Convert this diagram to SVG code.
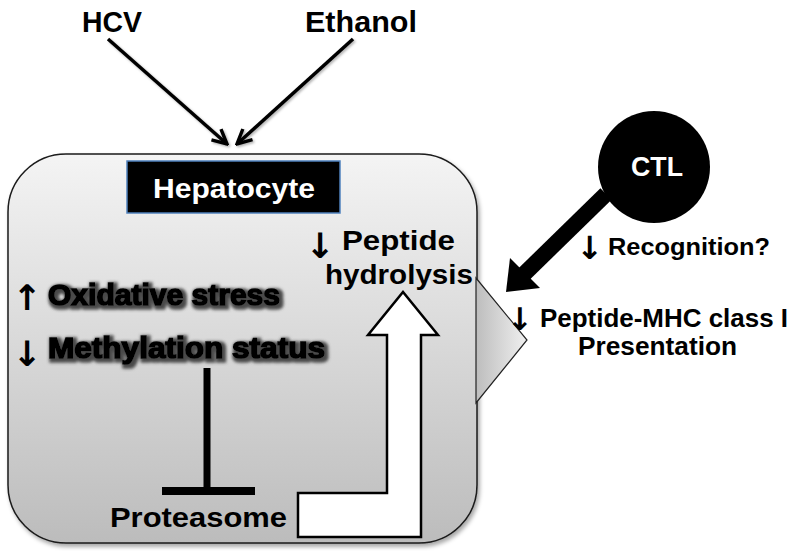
<svg xmlns="http://www.w3.org/2000/svg" width="795" height="551" viewBox="0 0 795 551">
<defs>
  <linearGradient id="boxGrad" x1="0" y1="0" x2="0" y2="1">
    <stop offset="0" stop-color="#f4f4f4"/>
    <stop offset="1" stop-color="#bcbcbc"/>
  </linearGradient>
  <linearGradient id="triGrad" x1="0" y1="0" x2="1" y2="0">
    <stop offset="0" stop-color="#bdbdbd"/>
    <stop offset="1" stop-color="#f0f0f0"/>
  </linearGradient>
  <filter id="boxShadow" x="-5%" y="-5%" width="115%" height="115%">
    <feDropShadow dx="2" dy="3" stdDeviation="2" flood-color="#000" flood-opacity="0.35"/>
  </filter>
  <filter id="lineShadow" x="-10%" y="-10%" width="130%" height="130%">
    <feDropShadow dx="1.5" dy="1.5" stdDeviation="1" flood-color="#000" flood-opacity="0.3"/>
  </filter>
  <filter id="glow" x="-10%" y="-40%" width="125%" height="180%">
    <feMorphology in="SourceAlpha" operator="dilate" radius="1.5" result="d"/>
    <feGaussianBlur in="d" stdDeviation="1.6" result="b"/>
    <feOffset in="b" dx="2" dy="2" result="o"/>
    <feFlood flood-color="#4a4a4a"/>
    <feComposite in2="o" operator="in" result="s"/>
    <feMerge><feMergeNode in="s"/><feMergeNode in="SourceGraphic"/></feMerge>
  </filter>
  <marker id="openArrow" viewBox="0 0 10 10" refX="9" refY="5" markerUnits="userSpaceOnUse" markerWidth="18" markerHeight="18" orient="auto">
    <path d="M1,1 L9,5 L1,9" fill="none" stroke="#000" stroke-width="1.9" stroke-linejoin="miter"/>
  </marker>
</defs>
<style>
  .lbl { font-family: "Liberation Sans", Arial, sans-serif; font-weight: bold; fill: #000; }
  .wht { font-family: "Liberation Sans", Arial, sans-serif; font-weight: bold; fill: #fff; }
  .arr { font-family: "DejaVu Sans", sans-serif; font-weight: bold; fill: #000; text-anchor: middle; }
  .heavy { stroke: #000; stroke-width: 1.6; paint-order: stroke; }
  .conn { stroke: #000; fill: none; }
</style>

<g id="hepatocyte">
  <rect x="8" y="154" width="469" height="389" rx="58" ry="58" fill="url(#boxGrad)" stroke="#1a1a1a" stroke-width="1.5" filter="url(#boxShadow)"/>
  <rect x="127" y="161" width="213" height="52" fill="#000" stroke="#4f81bd" stroke-width="1.5"/>
  <text class="wht" x="153" y="198" font-size="28" textLength="162" lengthAdjust="spacingAndGlyphs">Hepatocyte</text>
</g>

<g id="presentation-callout">
  <polygon points="476,278 527,340 476,403" fill="url(#triGrad)" stroke="#222" stroke-width="1.2"/>
</g>

<g id="connectors">
  <line class="conn" x1="108" y1="39" x2="227" y2="144" stroke-width="3.5" marker-end="url(#openArrow)" filter="url(#lineShadow)"/>
  <line class="conn" x1="353" y1="39" x2="237" y2="144" stroke-width="3.5" marker-end="url(#openArrow)" filter="url(#lineShadow)"/>
  <g id="inhibition">
    <line x1="207" y1="368" x2="207" y2="491" stroke="#000" stroke-width="7"/>
    <line x1="162" y1="491" x2="255" y2="491" stroke="#000" stroke-width="8"/>
  </g>
  <path id="bent-arrow" d="M298,493 L387,493 L387,335 L368,335 L403,292 L438,335 L421,335 L421,537 L298,537 Z" fill="#fff" stroke="#000" stroke-width="2.5" stroke-linejoin="miter"/>
  <g id="ctl-arrow">
    <line x1="606" y1="194" x2="521" y2="277" stroke="#000" stroke-width="16"/>
    <polygon points="506,292 510,258 540,288" fill="#000"/>
  </g>
</g>

<g id="hcv">
  <text class="lbl" x="82" y="32" font-size="29" textLength="60" lengthAdjust="spacingAndGlyphs">HCV</text>
</g>
<g id="ethanol">
  <text class="lbl" x="305" y="32" font-size="29" textLength="112" lengthAdjust="spacingAndGlyphs">Ethanol</text>
</g>

<g id="peptide-hydrolysis">
  <text class="arr" x="320" y="258" font-size="35">↓</text>
  <text class="lbl" x="342" y="250" font-size="28" textLength="113" lengthAdjust="spacingAndGlyphs">Peptide</text>
  <text class="lbl" x="325" y="284" font-size="28" textLength="148" lengthAdjust="spacingAndGlyphs">hydrolysis</text>
</g>

<g id="oxidative-stress">
  <text class="arr" x="27" y="310" font-size="35">↑</text>
  <text class="lbl heavy" x="48" y="305" font-size="29" textLength="232" lengthAdjust="spacingAndGlyphs" filter="url(#glow)">Oxidative stress</text>
</g>

<g id="methylation-status">
  <text class="arr" x="27" y="366" font-size="35">↓</text>
  <text class="lbl heavy" x="48" y="358" font-size="29" textLength="277" lengthAdjust="spacingAndGlyphs" filter="url(#glow)">Methylation status</text>
</g>

<g id="proteasome">
  <text class="lbl" x="110" y="527" font-size="28" textLength="177" lengthAdjust="spacingAndGlyphs">Proteasome</text>
</g>

<g id="ctl">
  <circle cx="654" cy="167" r="56" fill="#000"/>
  <text class="wht" x="657" y="176" font-size="28" text-anchor="middle" textLength="52" lengthAdjust="spacingAndGlyphs">CTL</text>
</g>

<g id="recognition">
  <text class="arr" x="590" y="259" font-size="32">↓</text>
  <text class="lbl" x="608" y="255" font-size="24" textLength="162" lengthAdjust="spacingAndGlyphs">Recognition?</text>
</g>

<g id="peptide-mhc">
  <text class="arr" x="520" y="330" font-size="31">↓</text>
  <text class="lbl" x="540" y="327" font-size="26" textLength="248" lengthAdjust="spacingAndGlyphs">Peptide-MHC class I</text>
  <text class="lbl" x="578" y="355" font-size="26" textLength="159" lengthAdjust="spacingAndGlyphs">Presentation</text>
</g>
</svg>
